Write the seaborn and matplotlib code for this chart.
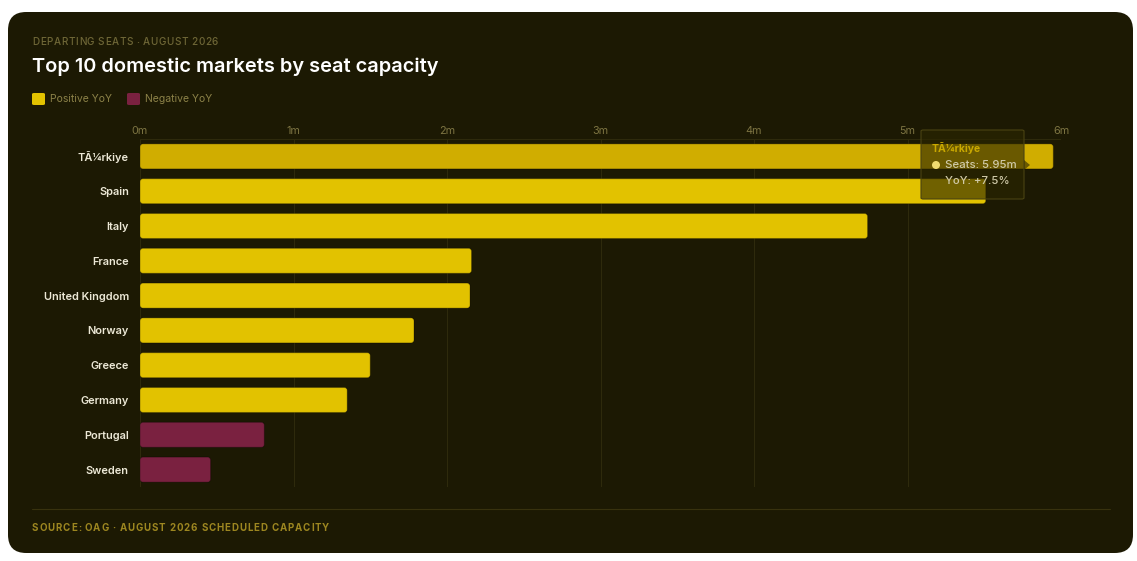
import pandas as pd
import matplotlib.pyplot as plt
import seaborn as sns
from matplotlib.patches import FancyBboxPatch, Polygon, Ellipse

# data (millions of departing seats)
markets = ["TÃ¼rkiye", "Spain", "Italy", "France", "United Kingdom",
           "Norway", "Greece", "Germany", "Portugal", "Sweden"]
seats = [5.95, 5.51, 4.74, 2.16, 2.15, 1.785, 1.50, 1.35, 0.81, 0.46]
trend = ["Positive YoY"] * 8 + ["Negative YoY"] * 2
ticks = [0, 1, 2, 3, 4, 5, 6]
tick_labels = ["0m", "1m", "2m", "3m", "4m", "5m", "6m"]

df = pd.DataFrame({"market": markets, "seats": seats, "trend": trend})

# colours
BG = "#1c1903"
YELLOW = "#e2c200"
YELLOW_HOVER = "#d0ad00"
WINE = "#7a2140"
GRID = "#2e2a0c"
TICK = "#7d7442"
LABEL = "#ece8d6"

sns.set_style("white")
plt.rcParams["font.family"] = ["Inter", "DejaVu Sans"]

W, H = 1137, 561
fig = plt.figure(figsize=(W / 100, H / 100), dpi=100)
fig.patch.set_facecolor("white")
renderer = fig.canvas.get_renderer()


def fx(x):
    return x / W


def fy(y):
    return 1 - y / H


def spaced_text(x, y, s, spacing, **kw):
    # matplotlib has no letter-spacing, so place the characters one by one
    for ch in s:
        t = fig.text(fx(x), fy(y), ch, va="center", ha="left", **kw)
        if ch == " ":
            w = t.get_fontsize() * 0.28
        else:
            w = t.get_window_extent(renderer).width
        x += w + spacing


# dark rounded card
card = FancyBboxPatch((fx(8), fy(553)), fx(1125), 541 / H,
                      boxstyle="round,pad=0,rounding_size=0.016",
                      mutation_aspect=W / H, zorder=-5,
                      transform=fig.transFigure, facecolor=BG, edgecolor="none")
fig.patches.append(card)

# header
spaced_text(32, 42, "DEPARTING SEATS · AUGUST 2026", 0.65, fontsize=7.2,
            color="#6e6636", fontweight="medium")
fig.text(fx(32), fy(67), "Top 10 domestic markets by seat capacity",
         fontsize=14.4, color="white", va="center", ha="left", fontweight="semibold")

# legend
palette = {"Positive YoY": YELLOW, "Negative YoY": WINE}
lx = 32
for name in ["Positive YoY", "Negative YoY"]:
    fig.patches.append(FancyBboxPatch((fx(lx), fy(105)), fx(13), 12 / H,
                                      boxstyle="round,pad=0,rounding_size=0.002",
                                      transform=fig.transFigure,
                                      facecolor=palette[name], edgecolor="none"))
    fig.text(fx(lx + 18), fy(99), name, fontsize=7.5, color="#8c8248",
             va="center", ha="left")
    lx += 95

# plot area
ax = fig.add_axes([fx(140), fy(487), 921 / W, 348 / H])
ax.set_facecolor("none")
ax.set_zorder(2)
sns.barplot(data=df, y="market", x="seats", hue="trend", palette=palette,
            dodge=False, orient="h", width=0.72, legend=False, ax=ax,
            order=markets, saturation=1)

# swap plain bars for slightly rounded ones
x_px = 921 / 6.0
y_px = 348 / 10.0
for p in list(ax.patches):
    x0, y0 = p.get_x(), p.get_y()
    w, h = p.get_width(), p.get_height()
    if w <= 0:
        p.remove()
        continue
    col = p.get_facecolor()
    if abs(y0 + h / 2) < 0.01:
        col = YELLOW_HOVER
    rb = FancyBboxPatch((x0, y0), w, h,
                        boxstyle="round,pad=0,rounding_size=%f" % (3 / x_px),
                        mutation_aspect=x_px / y_px,
                        facecolor=col, edgecolor=(0, 0, 0, 0.25), linewidth=0.8,
                        zorder=3)
    p.remove()
    ax.add_patch(rb)

ax.set_xlim(0, 6)
ax.set_ylim(9.5, -0.5)
ax.set_xticks(ticks)
ax.set_xticklabels(tick_labels)
ax.xaxis.tick_top()
ax.tick_params(axis="x", colors=TICK, labelsize=7.8, length=0, pad=2.5)
ax.tick_params(axis="y", colors=LABEL, labelsize=7.9, length=0, pad=8)
for lab in ax.get_yticklabels():
    lab.set_fontweight("semibold")
ax.set_xlabel("")
ax.set_ylabel("")
for s in ax.spines.values():
    s.set_visible(False)
for t in ticks:
    ax.axvline(t, color=GRID, linewidth=0.8, zorder=0)
ax.axhline(-0.5, color=GRID, linewidth=0.8, zorder=0)

# tooltip for the hovered bar
TIP = (0.17, 0.15, 0.0, 0.62)
tip = FancyBboxPatch((fx(921), fy(199)), fx(103), 69 / H,
                     boxstyle="round,pad=0,rounding_size=0.002",
                     transform=fig.transFigure, facecolor=TIP,
                     edgecolor="#4a4312", linewidth=0.8, zorder=10)
fig.patches.append(tip)
fig.patches.append(Polygon([[fx(1024), fy(160)], [fx(1030), fy(165)], [fx(1024), fy(170)]],
                           closed=True, transform=fig.transFigure,
                           facecolor=TIP, edgecolor="none", zorder=10))
fig.text(fx(932), fy(148), markets[0], fontsize=7.5, color="#c9a800",
         fontweight="bold", va="center", ha="left", zorder=11)
fig.patches.append(Ellipse((fx(936), fy(165)), 8 / W, 8 / H, transform=fig.transFigure,
                           facecolor="#f0dc70", edgecolor="none", zorder=11))
fig.text(fx(945), fy(165), "Seats: %.2fm" % seats[0], fontsize=8.2, color="#cfc9a8",
         fontweight="medium", va="center", ha="left", zorder=11)
fig.text(fx(945), fy(181), "YoY: +7.5%", fontsize=8.2, color="#cfc9a8",
         fontweight="medium", va="center", ha="left", zorder=11)

# footer
fig.add_artist(plt.Line2D([fx(32), fx(1110)], [fy(509), fy(509)],
                          transform=fig.transFigure, color="#38320e", linewidth=0.8))
spaced_text(32, 528, "SOURCE: OAG · AUGUST 2026 SCHEDULED CAPACITY", 0.9,
            fontsize=7.0, color="#9c8620", fontweight="bold")

fig.savefig("out.png", dpi=100, facecolor=fig.get_facecolor())
